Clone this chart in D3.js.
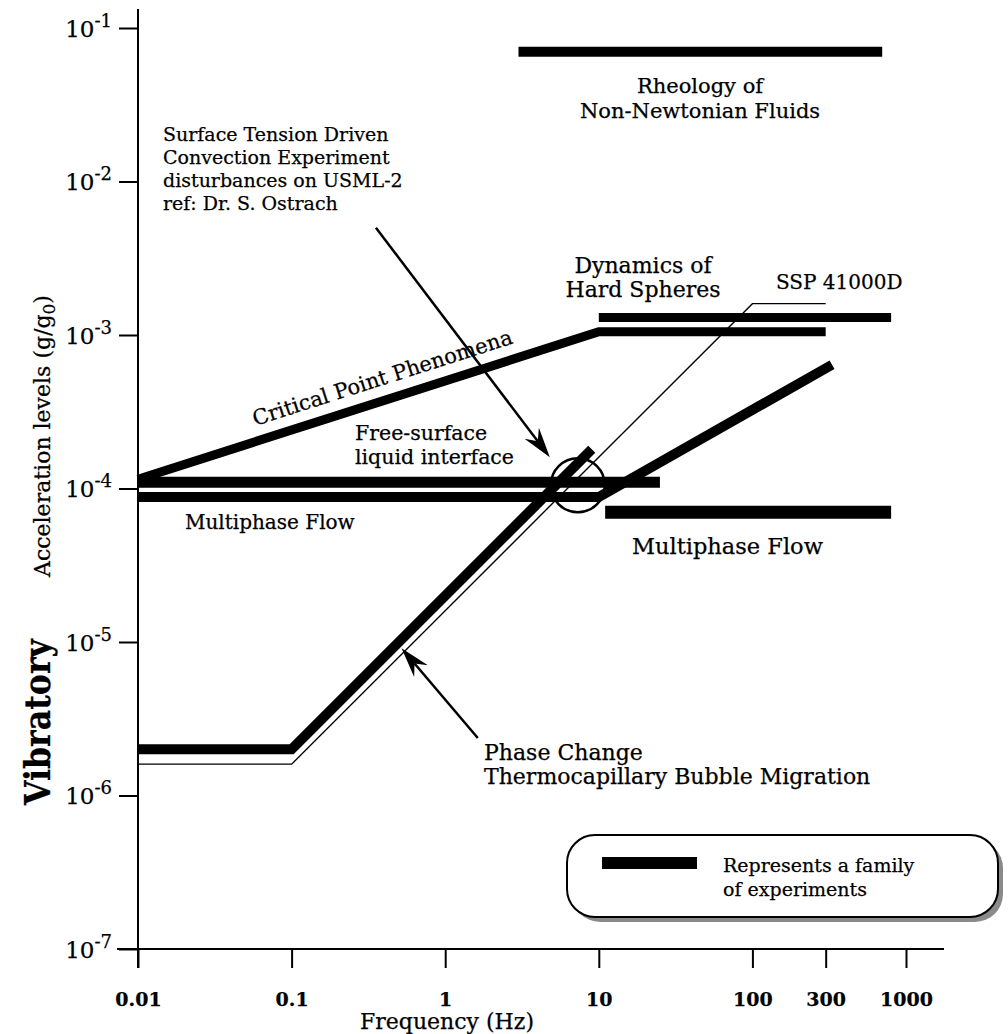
<!DOCTYPE html>
<html>
<head>
<meta charset="utf-8">
<script src="https://cdn.jsdelivr.net/npm/d3@7"></script>
<style>
  html, body { margin: 0; padding: 0; background: #fff; }
  svg { display: block; }
  text { font-family: "DejaVu Serif", "Liberation Serif", serif; fill: #000; stroke: #000; stroke-width: 0.25px; }
</style>
</head>
<body>
<svg id="chart" width="1008" height="1034"></svg>
<script>
// Frequency ticks (Hz) and acceleration ticks (g/g0)
const xTicks = [0.01, 0.1, 1, 10, 100, 300, 1000];
const xTickLabels = ["0.01", "0.1", "1", "10", "100", "300", "1000"];
const yTicks = [1e-1, 1e-2, 1e-3, 1e-4, 1e-5, 1e-6, 1e-7];
const yTickExponents = ["-1", "-2", "-3", "-4", "-5", "-6", "-7"];

// Experiment families: [frequency Hz, acceleration g/g0]
const rheology       = [[3, 0.07], [700, 0.07]];
const hardSpheres    = [[10, 1.3e-3], [800, 1.3e-3]];
const criticalPoint  = [[0.01, 1.15e-4], [10, 1.05e-3], [300, 1.05e-3]];
const freeSurface    = [[0.01, 1.1e-4], [25, 1.1e-4]];
const multiphaseLow  = [[0.01, 8.8e-5], [10, 8.8e-5], [330, 6.4e-4]];
const multiphaseHigh = [[11, 7e-5], [800, 7e-5]];
const phaseChange    = [[0.01, 2e-6], [0.1, 2e-6], [9, 1.8e-4]];
// SSP 41000D vibratory requirement
const ssp            = [[0.01, 1.6e-6], [0.1, 1.6e-6], [100, 1.6e-3], [300, 1.6e-3]];

// Annotation anchors in data units
const surfaceArrow = [[0.354, 5e-3], [4.8, 1.6e-4]];
const phaseArrow   = [[1.63, 2.37e-6], [0.52, 9.1e-6]];
const disturbanceCircle = [7.3, 1.05e-4];

const svg = d3.select("#chart");
const x = d3.scaleLog().domain([0.01, 1000]).range([138, 906]);
const y = d3.scaleLog().domain([1e-7, 1e-1]).range([949, 28]);
const line = d3.line().x(d => x(d[0])).y(d => y(d[1]));

// ---- axes ----
svg.append("line").attr("x1", 117).attr("x2", 944).attr("y1", y(1e-7)).attr("y2", y(1e-7))
  .attr("stroke", "#000").attr("stroke-width", 2);
svg.append("line").attr("x1", x(0.01)).attr("x2", x(0.01)).attr("y1", 9).attr("y2", 968)
  .attr("stroke", "#000").attr("stroke-width", 2);

const xAxis = svg.append("g").attr("transform", `translate(0,${y(1e-7)})`)
  .call(d3.axisBottom(x).tickValues(xTicks).tickSize(19).tickPadding(0)
    .tickFormat((d, i) => xTickLabels[i]));
xAxis.select(".domain").remove();
xAxis.selectAll(".tick line").attr("stroke", "#000").attr("stroke-width", 2);
xAxis.selectAll(".tick text").attr("y", 57).attr("dy", null)
  .style("font-family", "'DejaVu Serif', serif").style("font-size", "19px").style("font-weight", "bold");

const yAxis = svg.append("g").attr("transform", `translate(${x(0.01)},0)`)
  .call(d3.axisLeft(y).tickValues(yTicks).tickSize(19).tickFormat(() => ""));
yAxis.select(".domain").remove();
yAxis.selectAll(".tick line").attr("stroke", "#000").attr("stroke-width", 2);
yAxis.selectAll(".tick text").each(function(d, i) {
  const t = d3.select(this).attr("x", -26).attr("dy", null).attr("y", 8)
    .style("font-family", "'DejaVu Serif', serif").style("font-size", "23px");
  t.append("tspan").text("10");
  t.append("tspan").attr("dy", -10).style("font-size", "18px").text(yTickExponents[i]);
});

// ---- experiment lines ----
function drawLine(data, width) {
  svg.append("path").datum(data).attr("d", line)
    .attr("fill", "none").attr("stroke", "#000").attr("stroke-width", width)
    .attr("stroke-linejoin", "miter").attr("stroke-linecap", "butt");
}
drawLine(rheology, 10);
drawLine(hardSpheres, 9);
drawLine(criticalPoint, 9);
drawLine(freeSurface, 11);
drawLine(multiphaseLow, 10);
drawLine(multiphaseHigh, 13);
drawLine(phaseChange, 10);
drawLine(ssp, 1.4);

// ring around the USML-2 disturbance region
svg.append("circle").attr("cx", x(disturbanceCircle[0])).attr("cy", y(disturbanceCircle[1]))
  .attr("r", 27).attr("fill", "none").attr("stroke", "#000").attr("stroke-width", 2.5);

// ---- arrows ----
function arrow(pts) {
  const x0 = x(pts[0][0]), y0 = y(pts[0][1]), x1 = x(pts[1][0]), y1 = y(pts[1][1]);
  const ang = Math.atan2(y1 - y0, x1 - x0);
  const L = 30, W = 9, N = 20;
  const ux = Math.cos(ang), uy = Math.sin(ang), px = -uy, py = ux;
  svg.append("line").attr("x1", x0).attr("y1", y0)
    .attr("x2", x1 - ux * N).attr("y2", y1 - uy * N)
    .attr("stroke", "#000").attr("stroke-width", 2.5);
  const head = [
    [x1, y1],
    [x1 - ux * L + px * W, y1 - uy * L + py * W],
    [x1 - ux * N, y1 - uy * N],
    [x1 - ux * L - px * W, y1 - uy * L - py * W]
  ];
  svg.append("path").attr("d", "M" + head.map(p => p.join(",")).join("L") + "Z").attr("fill", "#000");
}
arrow(surfaceArrow);
arrow(phaseArrow);

// ---- labels ----
function label(lines, tx, ty, anchor, size, step) {
  const t = svg.append("text").attr("x", tx).attr("y", ty)
    .attr("text-anchor", anchor).style("font-size", size + "px");
  lines.forEach((s, i) => t.append("tspan").attr("x", tx).attr("dy", i ? step : 0).text(s));
  return t;
}
label(["Rheology of", "Non-Newtonian Fluids"], 700, 93, "middle", 21, 25);
label(["Surface Tension Driven", "Convection Experiment", "disturbances on USML-2", "ref: Dr. S. Ostrach"], 163, 141, "start", 19, 23);
label(["Dynamics of", "Hard Spheres"], 643, 273, "middle", 22, 24);
label(["SSP 41000D"], 776, 289, "start", 20, 0);
label(["Free-surface", "liquid interface"], 355, 440, "start", 20.5, 24);
label(["Multiphase Flow"], 185, 529, "start", 20, 0);
label(["Multiphase Flow"], 632, 554, "start", 22.5, 0);
label(["Phase Change", "Thermocapillary Bubble Migration"], 484, 760, "start", 22, 24);

// Critical Point label runs along the rising segment
{
  const p0 = [x(criticalPoint[0][0]), y(criticalPoint[0][1])];
  const p1 = [x(criticalPoint[1][0]), y(criticalPoint[1][1])];
  const ang = Math.atan2(p1[1] - p0[1], p1[0] - p0[0]) * 180 / Math.PI;
  const t = 0.545;
  const cx = p0[0] + (p1[0] - p0[0]) * t, cy = p0[1] + (p1[1] - p0[1]) * t;
  svg.append("text").attr("transform", `translate(${cx},${cy}) rotate(${ang})`)
    .attr("y", -15).attr("text-anchor", "middle").style("font-size", "21px")
    .text("Critical Point Phenomena");
}

// Axis titles
svg.append("text").attr("x", 447).attr("y", 1029).attr("text-anchor", "middle")
  .style("font-size", "22px").text("Frequency (Hz)");
{
  const t = svg.append("text").attr("transform", "translate(50,436) rotate(-90)")
    .attr("text-anchor", "middle").style("font-size", "22px");
  t.append("tspan").text("Acceleration levels (g/g");
  t.append("tspan").attr("dy", 5).style("font-size", "17px").text("0");
  t.append("tspan").attr("dy", -5).text(")");
}
svg.append("text").attr("transform", "translate(50,722) rotate(-90)")
  .attr("text-anchor", "middle").style("font-size", "35px").style("font-weight", "bold")
  .attr("textLength", 166).attr("lengthAdjust", "spacingAndGlyphs")
  .text("Vibratory");

// ---- legend ----
const lg = svg.append("g");
lg.append("rect").attr("x", 572).attr("y", 840).attr("width", 431).attr("height", 82)
  .attr("rx", 28).attr("fill", "#8a8a8a");
lg.append("rect").attr("x", 567).attr("y", 835).attr("width", 431).attr("height", 82)
  .attr("rx", 28).attr("fill", "#fff").attr("stroke", "#000").attr("stroke-width", 2);
lg.append("line").attr("x1", 602).attr("x2", 697).attr("y1", 863).attr("y2", 863)
  .attr("stroke", "#000").attr("stroke-width", 12);
label(["Represents a family", "of experiments"], 723, 872, "start", 19, 24);
</script>
</body>
</html>
